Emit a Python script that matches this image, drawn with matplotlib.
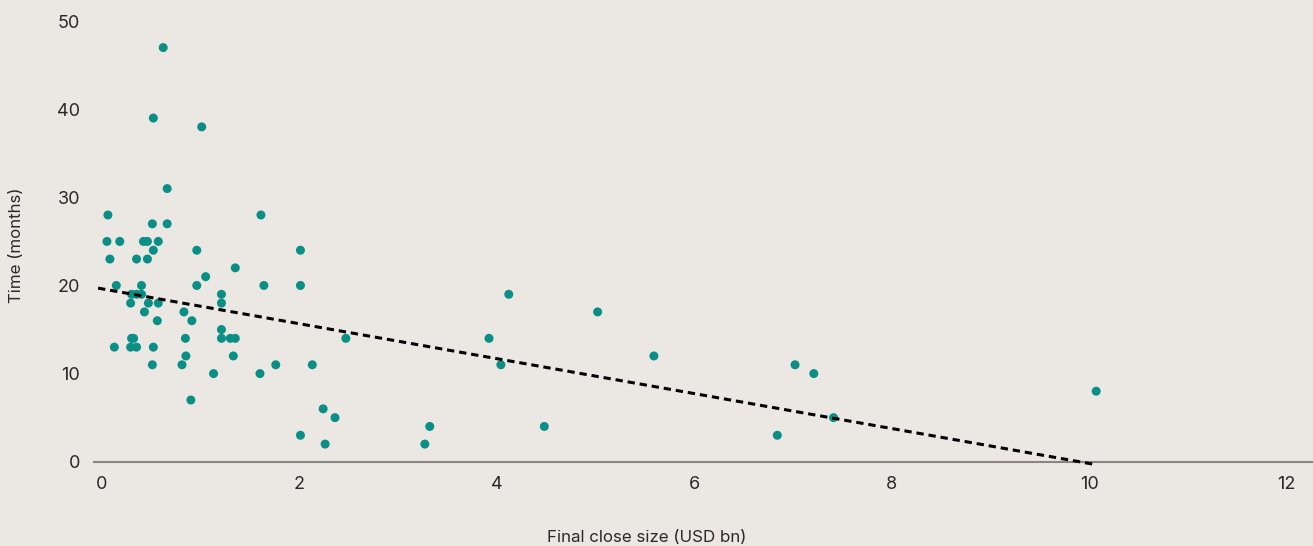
import matplotlib
matplotlib.use("Agg")
import matplotlib.pyplot as plt

# Final close size (USD bn) vs time to close (months)
close_size = [0.06, 1.61, 0.51, 0.66, 0.05, 0.18, 0.42, 0.46, 0.57, 0.52,
              0.96, 2.01, 0.08, 0.35, 0.46, 1.35, 1.05, 0.145, 0.40, 0.96,
              1.64, 2.01, 0.30, 0.35, 0.40, 1.21, 0.29, 0.47, 0.57, 1.21,
              0.43, 0.83, 0.56, 0.91, 1.21, 0.30, 0.32, 0.845, 1.21, 1.30,
              1.35, 2.47, 0.125, 0.29, 0.35, 0.52, 0.85, 1.33, 0.51, 0.81,
              1.76, 2.13, 1.13, 1.60, 0.90, 2.24, 2.36, 2.01, 2.26, 0.62,
              0.52, 1.01, 0.66, 3.27, 3.32, 3.92, 4.04, 4.12, 4.48, 5.02,
              5.59, 6.84, 7.02, 7.21, 7.41, 10.07]
months = [28, 28, 27, 27, 25, 25, 25, 25, 25, 24,
          24, 24, 23, 23, 23, 22, 21, 20, 20, 20,
          20, 20, 19, 19, 19, 19, 18, 18, 18, 18,
          17, 17, 16, 16, 15, 14, 14, 14, 14, 14,
          14, 14, 13, 13, 13, 13, 12, 12, 11, 11,
          11, 11, 10, 10, 7, 6, 5, 3, 2, 47,
          39, 38, 31, 2, 4, 14, 11, 19, 4, 17,
          12, 3, 11, 10, 5, 8]

# trend line end points
trend_x = [-0.04, 10.05]
trend_y = [19.7, -0.3]

x_ticks = [0, 2, 4, 6, 8, 10, 12]
y_ticks = [0, 10, 20, 30, 40, 50]

bg = "#ebe7e3"
teal = "#0a8f87"
plt.rcParams["font.family"] = ["Inter", "DejaVu Sans"]

fig = plt.figure(figsize=(13.13, 5.46), dpi=100, facecolor=bg)
ax = fig.add_axes([94 / 1313, 1 - 461.7 / 546, 1 - 94 / 1313, 461.7 / 546])
ax.set_facecolor(bg)

ax.scatter(close_size, months, s=42, color=teal, edgecolors="none", zorder=3, clip_on=False)
ax.plot(trend_x, trend_y, color="black", lw=2.2, linestyle=(0, (2.4, 1.6)), zorder=4, clip_on=False)

ax.set_xlim(-0.081, 12.266)
ax.set_ylim(0, 52.4)
ax.set_xticks(x_ticks)
ax.set_yticks(y_ticks)
ax.set_xticklabels([str(t) for t in x_ticks])
ax.set_yticklabels([str(t) for t in y_ticks])
ax.tick_params(axis="both", length=0, labelsize=13, colors="#2a2a2a")
ax.tick_params(axis="x", pad=10)
ax.tick_params(axis="y", pad=10)

for side in ["top", "right", "left"]:
    ax.spines[side].set_visible(False)
ax.spines["bottom"].set_color("#8a8583")
ax.spines["bottom"].set_linewidth(1.5)

fig.text(647 / 1313, 1 - 537 / 546, "Final close size (USD bn)", ha="center", va="center",
         fontsize=12.2, color="#2a2a2a")
fig.text(17 / 1313, 1 - 245 / 546, "Time (months)", ha="center", va="center",
         rotation=90, fontsize=12.2, color="#2a2a2a")

fig.savefig("out.png", dpi=100, facecolor=bg)
